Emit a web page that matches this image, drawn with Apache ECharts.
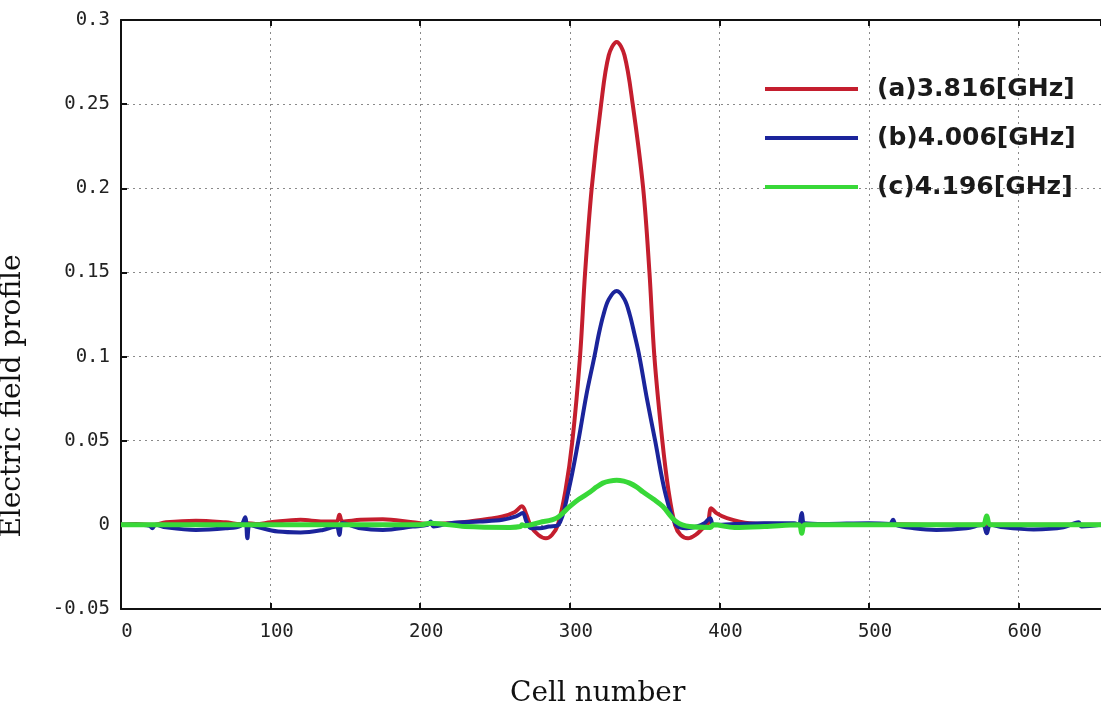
<!DOCTYPE html>
<html>
<head>
<meta charset="utf-8">
<script src="https://cdn.jsdelivr.net/npm/echarts@6/dist/echarts.min.js"></script>
<style>
html,body{margin:0;padding:0;background:#fff;}
#chart{width:1101px;height:712px;}
</style>
</head>
<body>
<div id="chart"></div>
<script>
// ---- data ----
const seriesNames = ['(a)3.816[GHz]', '(b)4.006[GHz]', '(c)4.196[GHz]'];
const xTicks = [0, 100, 200, 300, 400, 500, 600];
const yTicks = [-0.05, 0, 0.05, 0.1, 0.15, 0.2, 0.25, 0.3];

const cellsA = [0, 10, 21, 30, 50, 70, 80, 84, 90, 100, 120, 135, 144, 146, 148, 160, 175, 195, 207, 220, 233, 245, 255, 263, 268, 271, 274, 279, 284, 288, 292, 297, 301.7, 306.8, 310.2, 314.6, 320.9, 326, 331.3, 336.5, 342, 349, 353.2, 356.5, 361.8, 366, 370.3, 374, 379, 384, 389, 392, 394.5, 398, 405, 420, 440, 455, 500, 560, 655];
const fieldA = [0, 0.0005, 0, 0.0015, 0.0025, 0.0015, 0.0005, 0.001, 0.0005, 0.0015, 0.003, 0.002, 0.002, 0.006, 0.002, 0.003, 0.0033, 0.0015, 0.0005, 0.001, 0.002, 0.0035, 0.005, 0.0075, 0.011, 0.006, -0.001, -0.006, -0.008, -0.006, 0, 0.02, 0.05, 0.1, 0.15, 0.2, 0.25, 0.279, 0.287, 0.279, 0.25, 0.2, 0.15, 0.1, 0.05, 0.02, 0, -0.006, -0.008, -0.006, -0.002, 0, 0.0099, 0.007, 0.004, 0.001, 0.0005, 0, 0.0005, 0, 0];

const cellsB = [0, 10, 19, 21, 23, 30, 50, 70, 80, 83, 84.5, 86, 90, 105, 120, 135, 144, 146, 148, 160, 175, 195, 205, 207, 209, 220, 240, 255, 264, 268.5, 271, 274, 280, 286, 292.3, 299, 305.7, 311, 316.4, 319.5, 322.5, 326, 331.3, 336.5, 340, 343, 346.5, 351.5, 357, 364, 371, 378, 385, 390, 393.7, 396, 410, 430, 450, 453, 455, 457, 470, 500, 514, 516, 518, 530, 545, 565, 576, 578.6, 581, 590, 610, 630, 640, 642, 655];
const fieldB = [0, 0, -0.0005, -0.002, 0, -0.0015, -0.003, -0.002, -0.0005, 0.0045, -0.008, 0, -0.001, -0.004, -0.0045, -0.003, -0.001, -0.006, 0.001, -0.002, -0.003, -0.001, 0, 0.002, -0.001, 0.001, 0.002, 0.003, 0.005, 0.007, 0.002, -0.002, -0.002, -0.001, 0, 0.02, 0.05, 0.077, 0.1, 0.114, 0.125, 0.134, 0.139, 0.134, 0.125, 0.114, 0.1, 0.075, 0.05, 0.018, 0, -0.002, -0.001, 0.001, 0.004, 0, 0.0005, 0.001, 0.001, 0, 0.007, 0.001, 0.0005, 0.001, 0.0005, 0.003, 0, -0.002, -0.003, -0.002, 0, -0.005, 0, -0.0015, -0.0027, -0.0015, 0.0015, -0.001, 0];

const cellsC = [0, 50, 100, 146, 200, 207, 230, 260, 267, 268, 270, 280, 291, 300, 306, 313.5, 318, 322, 326.5, 331.3, 336, 340, 344.5, 349, 356, 362, 371, 380, 394, 396, 410, 430, 453, 455, 457, 480, 516, 540, 576, 578.6, 581, 600, 640, 655];
const fieldC = [0, 0, 0, 0, 0, 0.001, -0.001, -0.0015, -0.001, 0, -0.0005, 0.0015, 0.004, 0.011, 0.0152, 0.0195, 0.0226, 0.0248, 0.026, 0.0265, 0.026, 0.0248, 0.0226, 0.0195, 0.0152, 0.011, 0.002, -0.001, -0.0015, 0, -0.0015, -0.001, 0, -0.005, 0, 0, 0, 0, 0, 0.0053, 0, 0, 0, 0];

const colors = ['#c41e2e', '#1b249b', '#38d838'];

function pairs(xs, ys) { return xs.map((x, i) => [x, ys[i]]); }

const chart = echarts.init(document.getElementById('chart'), null, {renderer: 'canvas'});

const tickFont = {fontFamily: 'DejaVu Sans Mono', fontSize: 19, color: '#222'};
const gridLine = {show: true, lineStyle: {color: '#8a8a8a', type: [2, 4], width: 1}};

const option = {
  backgroundColor: '#ffffff',
  animation: false,
  grid: {left: 121, right: 0, top: 20, bottom: 103, containLabel: false},
  legend: {
    orient: 'vertical',
    left: 760,
    top: 69,
    itemWidth: 93,
    itemHeight: 4,
    itemGap: 19,
    icon: 'rect',
    data: seriesNames,
    textStyle: {fontFamily: 'DejaVu Sans', fontWeight: 'bold', fontSize: 25, color: '#1a1a1a', lineHeight: 30, padding: [0, 0, 0, 14]}
  },
  xAxis: [{
    type: 'value', min: 0, max: 655, interval: 100, position: 'bottom',
    axisLine: {show: true, onZero: false, lineStyle: {color: '#111', width: 2}},
    axisTick: {show: true, inside: true, length: 6, lineStyle: {color: '#111', width: 2}},
    axisLabel: Object.assign({margin: 14, padding: [0, 0, 0, 12], showMaxLabel: false}, tickFont),
    splitLine: gridLine
  }, {
    type: 'value', min: 0, max: 655, interval: 100, position: 'top',
    axisLine: {show: true, onZero: false, lineStyle: {color: '#111', width: 2}},
    axisTick: {show: true, inside: true, length: 6, lineStyle: {color: '#111', width: 2}},
    axisLabel: {show: false},
    splitLine: {show: false}
  }],
  yAxis: {
    type: 'value', min: -0.05, max: 0.3, interval: 0.05,
    axisLine: {show: true, onZero: false, lineStyle: {color: '#111', width: 2}},
    axisTick: {show: true, inside: true, length: 6, lineStyle: {color: '#111', width: 2}},
    axisLabel: Object.assign({margin: 11, formatter: v => String(+v.toFixed(2))}, tickFont),
    splitLine: gridLine
  },
  graphic: [
    {type: 'text', left: 510, top: 680, style: {text: 'Cell number', font: '28px "DejaVu Serif"', fill: '#111'}},
    {type: 'text', x: 13, y: 396, rotation: Math.PI / 2, style: {text: 'Electric field profile', font: '28px "DejaVu Serif"', fill: '#111', align: 'center', verticalAlign: 'middle'}}
  ],
  series: [
    {name: seriesNames[0], type: 'line', data: pairs(cellsA, fieldA), smooth: 0.35, showSymbol: false, lineStyle: {width: 4, color: colors[0]}, itemStyle: {color: colors[0]}, z: 2},
    {name: seriesNames[1], type: 'line', data: pairs(cellsB, fieldB), smooth: 0.35, showSymbol: false, lineStyle: {width: 4, color: colors[1]}, itemStyle: {color: colors[1]}, z: 3},
    {name: seriesNames[2], type: 'line', data: pairs(cellsC, fieldC), smooth: 0.35, showSymbol: false, lineStyle: {width: 5, color: colors[2]}, itemStyle: {color: colors[2]}, z: 4}
  ]
};
chart.setOption(option);
</script>
</body>
</html>
